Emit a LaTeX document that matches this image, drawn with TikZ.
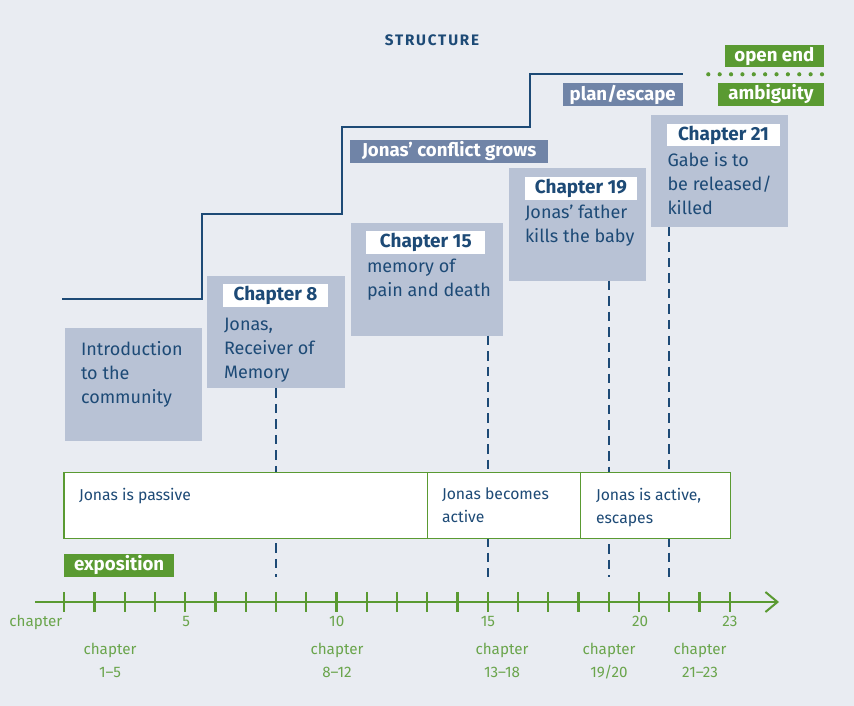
\documentclass[tikz,border=0pt]{standalone}
\usepackage{fontspec}
\setmainfont{Fira Sans}
\usetikzlibrary{arrows.meta}
\definecolor{bg}{HTML}{E9ECF2}
\definecolor{boxc}{HTML}{B8C2D5}
\definecolor{navy}{HTML}{1D4A76}
\definecolor{steel}{HTML}{7084A7}
\definecolor{grn}{HTML}{5A9A32}
\definecolor{lgrn}{HTML}{6AA54C}
\begin{document}
\begin{tikzpicture}[x=0.75pt,y=-0.75pt,
  rect/.style={anchor=north west, inner sep=0pt, outer sep=0pt, draw=none},
  chbox/.style={rect, fill=boxc},
  chlabel/.style={anchor=center, inner sep=0pt, fill=white, text=navy, font=\bfseries\fontsize{14.2}{16}\selectfont},
  chtext/.style={anchor=north west, inner sep=0pt, outer sep=0pt, text=navy, align=left, font=\fontsize{13.5}{18}\selectfont},
  phase/.style={rect, fill=white, draw=grn, line width=0.9pt},
  phtext/.style={anchor=north west, inner sep=0pt, outer sep=0pt, text=navy, align=left, font=\fontsize{11.8}{17.25}\selectfont},
  glabel/.style={rect, fill=grn, text=white, font=\bfseries\fontsize{14}{15}\selectfont},
  slabel/.style={rect, fill=steel, text=white, font=\bfseries\fontsize{14}{15}\selectfont},
  stair/.style={draw=navy, line width=1.6pt},
  dashline/.style={draw=navy, line width=1.5pt, dash pattern=on 9.5*0.75pt off 6*0.75pt},
  axlabel/.style={anchor=base, inner sep=0pt, text=lgrn, font=\fontsize{11.4}{14}\selectfont},
  tick/.style={draw=grn, line width=1.6pt}
]
\fill[bg] (0,0) rectangle (854,706);
\useasboundingbox (0,0) rectangle (854,706);

% title
\node[anchor=base, inner sep=0pt, text=navy, font=\bfseries\fontsize{11.4}{12}\selectfont\addfontfeature{LetterSpace=12}] (title) at (432,46) {STRUCTURE};

% staircase
\coordinate (s0) at (62,299.3);
\coordinate (s1) at (201.8,299.3);
\coordinate (s2) at (201.8,214.3);
\coordinate (s3) at (341.7,214.3);
\coordinate (s4) at (341.7,127.3);
\coordinate (s5) at (530,127.3);
\coordinate (s6) at (530,74.3);
\coordinate (s7) at (682.7,74.3);
\draw[stair] (s0) -- (s1) -- (s2) -- (s3) -- (s4) -- (s5) -- (s6) -- (s7);
\coordinate (d0) at (708.3,74.3);
\coordinate (d1) at (822,74.3);
\draw[grn, line width=4.2*0.75pt, line cap=round, dash pattern=on 0pt off 11.37*0.75pt] (d0) -- (d1);

% labels at top
\node[glabel, minimum width=98.7*0.75pt, minimum height=22.3*0.75pt] (openend) at (725,45) {open end};
\node[glabel, minimum width=105.4*0.75pt, minimum height=22.4*0.75pt] (ambig) at (718.3,83.3) {ambiguity};
\node[slabel, minimum width=120*0.75pt, minimum height=22.4*0.75pt] (plan) at (562.7,83.3) {plan/escape};
\node[slabel, minimum width=197.7*0.75pt, minimum height=22.4*0.75pt] (conflict) at (350.3,140.3) {Jonas’ conflict grows};

% dashed chapter markers (drawn before boxes)
\coordinate (e8) at (276,577);
\coordinate (e15) at (488,577);
\coordinate (e19) at (609.3,577);
\coordinate (e21) at (669,577);

% chapter boxes
\node[chbox, minimum width=137*0.75pt, minimum height=113*0.75pt] (intro) at (65,327.7) {};
\node[chbox, minimum width=137.7*0.75pt, minimum height=112.6*0.75pt] (c8) at (207.3,275.7) {};
\node[chbox, minimum width=151.7*0.75pt, minimum height=113*0.75pt] (c15) at (351,222.7) {};
\node[chbox, minimum width=136.7*0.75pt, minimum height=112.4*0.75pt] (c19) at (509.3,168.3) {};
\node[chbox, minimum width=136.7*0.75pt, minimum height=112*0.75pt] (c21) at (651,115) {};

\draw[dashline] (c8.south -| e8) -- (e8);
\draw[dashline] (c15.south -| e15) -- (e15);
\draw[dashline] (c19.south -| e19) -- (e19);
\draw[dashline] (c21.south -| e21) -- (e21);

\node[chlabel, minimum width=105*0.75pt, minimum height=23*0.75pt] (l8) at (275.5,295.5) {Chapter 8};
\node[chlabel, minimum width=119*0.75pt, minimum height=23*0.75pt] (l15) at (425.8,242.2) {Chapter 15};
\node[chlabel, minimum width=112*0.75pt, minimum height=22.5*0.75pt] (l19) at (581,188.3) {Chapter 19};
\node[chlabel, minimum width=113.3*0.75pt, minimum height=22*0.75pt] (l21) at (723.5,135.2) {Chapter 21};

\node[chtext] (tintro) at (81,341) {Introduction\\to the\\community};
\node[chtext] (t8) at (224,318) {Jonas,\\Receiver of\\Memory};
\node[chtext] (t15) at (367,259) {memory of\\pain and death};
\node[chtext] (t19) at (525,205) {Jonas’ father\\kills the baby};
\node[chtext] (t21) at (667.5,152) {Gabe is to\\be released/\\killed};

% phases
\node[phase, minimum width=363.3*0.75pt, minimum height=66.3*0.75pt] (p1) at (64,472.3) {};
\node[phase, minimum width=153.4*0.75pt, minimum height=66.3*0.75pt] (p2) at (427.3,472.3) {};
\node[phase, minimum width=150*0.75pt, minimum height=66.3*0.75pt] (p3) at (580.7,472.3) {};
\node[phtext] (tp1) at (79,488) {Jonas is passive};
\node[phtext] (tp2) at (442,488) {Jonas becomes\\active};
\node[phtext] (tp3) at (596,488) {Jonas is active,\\escapes};

\node[glabel, minimum width=110.3*0.75pt, minimum height=22.4*0.75pt] (expo) at (64,554.3) {exposition};

% axis
\coordinate (a0) at (35,602);
\coordinate (a1) at (779,602);
\draw[grn, line width=1.7pt, -{Straight Barb[length=12*0.75pt, width=20*0.75pt, line width=1.5pt]}] (a0) -- (a1);
\foreach \i in {1,...,23} {
  \draw[tick] ({64.3+(\i-1)*30.25},592.3) -- ({64.3+(\i-1)*30.25},611.5);
}
\node[axlabel] (chl) at (35.8,626.7) {chapter};
\node[axlabel] (n5) at (186.3,626.7) {5};
\node[axlabel] (n10) at (336.7,626.7) {10};
\node[axlabel] (n15) at (488,626.7) {15};
\node[axlabel] (n20) at (640,626.7) {20};
\node[axlabel] (n23) at (730,626.7) {23};

\node[axlabel] (r1a) at (110,654) {chapter};
\node[axlabel] (r1b) at (110,677.7) {1–5};
\node[axlabel] (r2a) at (337,654) {chapter};
\node[axlabel] (r2b) at (337,677.7) {8–12};
\node[axlabel] (r3a) at (502,654) {chapter};
\node[axlabel] (r3b) at (502,677.7) {13–18};
\node[axlabel] (r4a) at (609,654) {chapter};
\node[axlabel] (r4b) at (609,677.7) {19/20};
\node[axlabel] (r5a) at (700,654) {chapter};
\node[axlabel] (r5b) at (700,677.7) {21–23};
\end{tikzpicture}
\end{document}
